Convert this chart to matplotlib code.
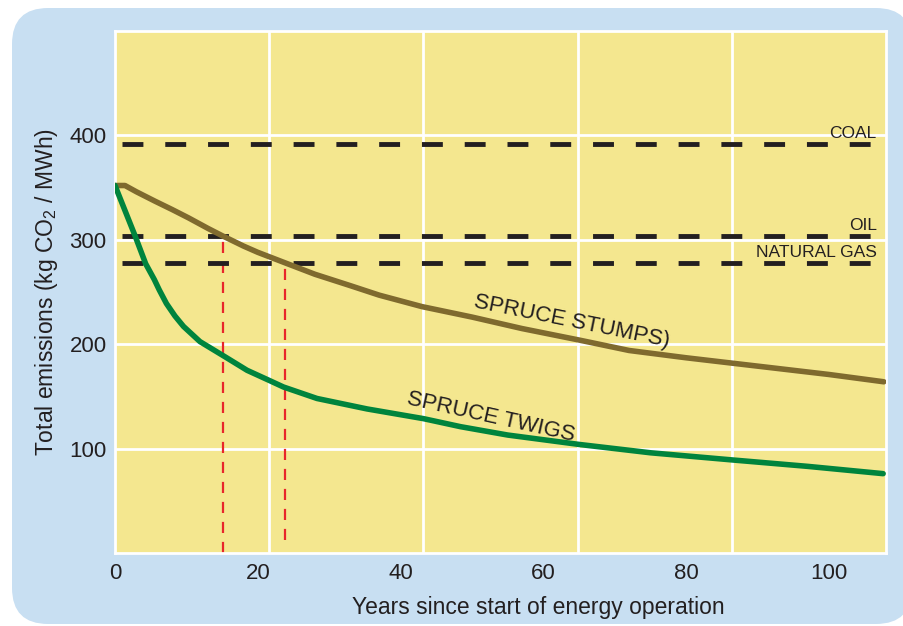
import numpy as np
import matplotlib
matplotlib.use('Agg')
import matplotlib.pyplot as plt
from matplotlib.patches import FancyBboxPatch

plt.rcParams['font.family'] = ['Liberation Sans', 'DejaVu Sans']
plt.rcParams['mathtext.fontset'] = 'custom'
plt.rcParams['mathtext.rm'] = 'Liberation Sans'
plt.rcParams['mathtext.default'] = 'regular'

# dane
lata_pnie = [0, 1.4, 3, 5.6, 8, 10.3, 13, 15, 18, 20, 23.8, 28, 33, 37, 43, 50, 57, 65, 72, 80, 90, 100, 107.7]
emisje_pnie = [352, 352, 346, 337, 329, 321, 311, 304, 294, 288, 278, 267, 256, 247, 236, 226, 215, 204, 194, 187, 179, 171, 164]

lata_galazki = [0, 1.4, 2.8, 4.3, 5.5, 6.2, 7.2, 8.4, 9.6, 11.9, 15.4, 18.5, 21.7, 23.6, 28.3, 35.3, 43.2, 48.4,
                55, 65, 75, 86.7, 97, 107.6]
emisje_galazki = [352, 328, 304, 277, 262, 252, 239, 227, 217, 202.5, 188, 175, 165, 159, 148, 138, 128.7, 121,
                  113, 104, 96, 89, 83, 76]

paliwa = ['COAL', 'OIL', 'NATURAL GAS']
emisje_paliw = [392, 304, 278]

przeciecia_x = [15.1, 23.8]
przeciecia_y = [304, 278]

tekst = '#231f20'

fig = plt.figure(figsize=(9.04, 6.26), dpi=100)
fig.patch.set_facecolor('white')
tlo = FancyBboxPatch((12 / 904, 2 / 626), 900 / 904, 616 / 626,
                     boxstyle='round,pad=0,rounding_size=0.04',
                     transform=fig.transFigure, facecolor='#c8dff2', edgecolor='none',
                     mutation_aspect=904 / 626, zorder=-1)
fig.patches.append(tlo)

ax = fig.add_axes([115 / 904, 1 - 553 / 626, 771 / 904, 522 / 626])
ax.set_zorder(1)
ax.set_facecolor('#f4e78f')
ax.set_xlim(0, 108)
ax.set_ylim(0, 500)

# siatka - pionowe linie nie pokrywaja sie z podzialka
ax.set_xticks(np.arange(0, 101, 20))
ax.set_xticks(np.linspace(0, 108, 6)[1:-1], minor=True)
ax.set_yticks([100, 200, 300, 400])
ax.grid(False)
ax.grid(True, which='minor', axis='x', color='white', lw=2)
ax.grid(True, which='major', axis='y', color='white', lw=2)
ax.tick_params(which='both', length=0, labelsize=16, colors=tekst, pad=7)
ax.tick_params(axis='y', pad=6)
for s in ax.spines.values():
    s.set_color('white')
    s.set_linewidth(2)

for nazwa, wartosc in zip(paliwa, emisje_paliw):
    ax.plot([1, 107], [wartosc, wartosc], color=tekst, lw=3.5, dashes=(4.3, 4.5), zorder=3)
    ax.text(106.7, wartosc + 2.5, nazwa, ha='right', va='bottom', fontsize=12.5, color=tekst, zorder=4)

for xp, yp, yd in zip(przeciecia_x, przeciecia_y, [0, 12]):
    ax.plot([xp, xp], [yd, yp], color='#e8262b', lw=1.6, dashes=(5, 4), zorder=2)

ax.plot(lata_pnie, emisje_pnie, color='#7f6a2e', lw=4, solid_capstyle='round', solid_joinstyle='round', zorder=5)
ax.plot(lata_galazki, emisje_galazki, color='#00843d', lw=4, solid_capstyle='round', solid_joinstyle='round', zorder=5)

ax.text(64, 222, 'SPRUCE STUMPS)', rotation=-11.5, ha='center', va='center',
        fontsize=16, color=tekst, rotation_mode='anchor', zorder=6)
ax.text(52.7, 130, 'SPRUCE TWIGS', rotation=-12.5, ha='center', va='center',
        fontsize=16, color=tekst, rotation_mode='anchor', zorder=6)

ax.set_xlabel('Years since start of energy operation', fontsize=16.5, color=tekst)
ax.set_ylabel('Total emissions (kg CO$_2$ / MWh)', fontsize=16.5, color=tekst, labelpad=7)
ax.xaxis.set_label_coords(0.549, -0.083)

plt.savefig('out.png', dpi=100)
